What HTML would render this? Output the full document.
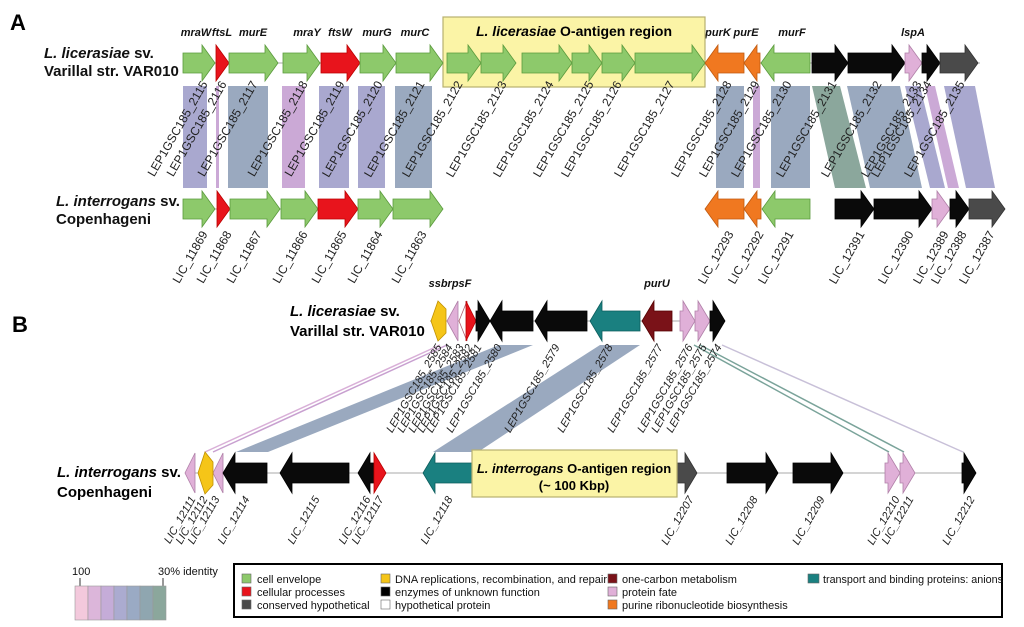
<!DOCTYPE html>
<html><head><meta charset="utf-8"><style>
html,body{margin:0;padding:0;background:#fff;}
svg{display:block;font-family:"Liberation Sans",sans-serif;}
.l{font-size:12px;fill:#222;}
.lb{font-size:11px;fill:#222;font-style:italic;}
.g{font-size:11px;font-weight:bold;font-style:italic;fill:#111;}
.sp{font-size:15px;font-weight:bold;fill:#111;}
.lg{font-size:11px;fill:#111;}
</style></head><body>
<svg id="s" width="1024" height="627" viewBox="0 0 1024 627" xmlns="http://www.w3.org/2000/svg">
<g id="bg"></g>
<text x="10" y="30" style="font-size:22px;font-weight:bold">A</text>
<text x="44" y="58" class="sp"><tspan font-style="italic">L. licerasiae</tspan> sv.</text>
<text x="44" y="76" class="sp">Varillal str. VAR010</text>
<text x="56" y="206" class="sp"><tspan font-style="italic">L. interrogans</tspan> sv.</text>
<text x="56" y="224" class="sp">Copenhageni</text>
<g class="g" text-anchor="middle">
<text x="196" y="36">mraW</text><text x="222" y="36">ftsL</text><text x="253" y="36">murE</text>
<text x="307" y="36">mraY</text><text x="340" y="36">ftsW</text><text x="377" y="36">murG</text><text x="415" y="36">murC</text>
<text x="718" y="36">purK</text><text x="746" y="36">purE</text><text x="792" y="36">murF</text><text x="913" y="36">lspA</text>
<text x="450" y="287">ssbrpsF</text><text x="657" y="287">purU</text>
</g>
<g id="fg"></g>
<text x="574" y="36" text-anchor="middle" style="font-size:14px;font-weight:bold"><tspan font-style="italic">L. licerasiae</tspan> O-antigen region</text>
<g class="l" text-anchor="end">
<text transform="translate(208,84) rotate(-60)">LEP1GSC185_2115</text>
<text transform="translate(227,84) rotate(-60)">LEP1GSC185_2116</text>
<text transform="translate(258,84) rotate(-60)">LEP1GSC185_2117</text>
<text transform="translate(308,84) rotate(-60)">LEP1GSC185_2118</text>
<text transform="translate(345,84) rotate(-60)">LEP1GSC185_2119</text>
<text transform="translate(383,84) rotate(-60)">LEP1GSC185_2120</text>
<text transform="translate(425,84) rotate(-60)">LEP1GSC185_2121</text>
<text transform="translate(463,84) rotate(-60)">LEP1GSC185_2122</text>
<text transform="translate(507,84) rotate(-60)">LEP1GSC185_2123</text>
<text transform="translate(554,84) rotate(-60)">LEP1GSC185_2124</text>
<text transform="translate(594,84) rotate(-60)">LEP1GSC185_2125</text>
<text transform="translate(622,84) rotate(-60)">LEP1GSC185_2126</text>
<text transform="translate(675,84) rotate(-60)">LEP1GSC185_2127</text>
<text transform="translate(732,84) rotate(-60)">LEP1GSC185_2128</text>
<text transform="translate(760,84) rotate(-60)">LEP1GSC185_2129</text>
<text transform="translate(792,84) rotate(-60)">LEP1GSC185_2130</text>
<text transform="translate(837,84) rotate(-60)">LEP1GSC185_2131</text>
<text transform="translate(882,84) rotate(-60)">LEP1GSC185_2132</text>
<text transform="translate(922,84) rotate(-60)">LEP1GSC185_2133</text>
<text transform="translate(932,84) rotate(-60)">LEP1GSC185_2134</text>
<text transform="translate(965,84) rotate(-60)">LEP1GSC185_2135</text>
<text transform="translate(208,234) rotate(-60)">LIC_11869</text>
<text transform="translate(232,234) rotate(-60)">LIC_11868</text>
<text transform="translate(262,234) rotate(-60)">LIC_11867</text>
<text transform="translate(308,234) rotate(-60)">LIC_11866</text>
<text transform="translate(347,234) rotate(-60)">LIC_11865</text>
<text transform="translate(383,234) rotate(-60)">LIC_11864</text>
<text transform="translate(427,234) rotate(-60)">LIC_11863</text>
<text transform="translate(734,234) rotate(-60)">LIC_12293</text>
<text transform="translate(764,234) rotate(-60)">LIC_12292</text>
<text transform="translate(794,234) rotate(-60)">LIC_12291</text>
<text transform="translate(865,234) rotate(-60)">LIC_12391</text>
<text transform="translate(914,234) rotate(-60)">LIC_12390</text>
<text transform="translate(949,234) rotate(-60)">LIC_12389</text>
<text transform="translate(967,234) rotate(-60)">LIC_12388</text>
<text transform="translate(995,234) rotate(-60)">LIC_12387</text>
</g>
<text x="12" y="332" style="font-size:22px;font-weight:bold">B</text>
<text x="290" y="316" style="font-size:15px;font-weight:bold"><tspan font-style="italic">L. licerasiae</tspan> sv.</text>
<text x="290" y="336" style="font-size:15px;font-weight:bold">Varillal str. VAR010</text>
<text x="57" y="477" style="font-size:15px;font-weight:bold"><tspan font-style="italic">L. interrogans</tspan> sv.</text>
<text x="57" y="497" style="font-size:15px;font-weight:bold">Copenhageni</text>
<text x="574" y="473" text-anchor="middle" style="font-size:13px;font-weight:bold"><tspan font-style="italic">L. interrogans</tspan> O-antigen region</text>
<text x="574" y="490" text-anchor="middle" style="font-size:13px;font-weight:bold">(~ 100 Kbp)</text>
<g class="lb" text-anchor="end">
<text transform="translate(442,347) rotate(-60)">LEP1GSC185_2585</text>
<text transform="translate(453,347) rotate(-60)">LEP1GSC185_2584</text>
<text transform="translate(464,347) rotate(-60)">LEP1GSC185_2583</text>
<text transform="translate(473,347) rotate(-60)">LEP1GSC185_2582</text>
<text transform="translate(482,347) rotate(-60)">LEP1GSC185_2581</text>
<text transform="translate(502,347) rotate(-60)">LEP1GSC185_2580</text>
<text transform="translate(560,347) rotate(-60)">LEP1GSC185_2579</text>
<text transform="translate(613,347) rotate(-60)">LEP1GSC185_2578</text>
<text transform="translate(663,347) rotate(-60)">LEP1GSC185_2577</text>
<text transform="translate(693,347) rotate(-60)">LEP1GSC185_2576</text>
<text transform="translate(707,347) rotate(-60)">LEP1GSC185_2575</text>
<text transform="translate(722,347) rotate(-60)">LEP1GSC185_2574</text>
<text transform="translate(196,499) rotate(-60)">LIC_12111</text>
<text transform="translate(208,499) rotate(-60)">LIC_12112</text>
<text transform="translate(220,499) rotate(-60)">LIC_12113</text>
<text transform="translate(250,499) rotate(-60)">LIC_12114</text>
<text transform="translate(320,499) rotate(-60)">LIC_12115</text>
<text transform="translate(371,499) rotate(-60)">LIC_12116</text>
<text transform="translate(384,499) rotate(-60)">LIC_12117</text>
<text transform="translate(453,499) rotate(-60)">LIC_12118</text>
<text transform="translate(694,499) rotate(-60)">LIC_12207</text>
<text transform="translate(758,499) rotate(-60)">LIC_12208</text>
<text transform="translate(825,499) rotate(-60)">LIC_12209</text>
<text transform="translate(900,499) rotate(-60)">LIC_12210</text>
<text transform="translate(914,499) rotate(-60)">LIC_12211</text>
<text transform="translate(975,499) rotate(-60)">LIC_12212</text>
</g>
<text x="72" y="575" class="lg">100</text>
<text x="158" y="575" class="lg">30% identity</text>
<line x1="80" y1="578" x2="80" y2="586" stroke="#333"/>
<line x1="163" y1="578" x2="163" y2="586" stroke="#333"/>
<g stroke="#999" stroke-width="0.6">
<rect x="75" y="586" width="13" height="34" fill="#f3c9dc"/>
<rect x="88" y="586" width="13" height="34" fill="#dcb6da"/>
<rect x="101" y="586" width="13" height="34" fill="#c5acd8"/>
<rect x="114" y="586" width="13" height="34" fill="#ababd0"/>
<rect x="127" y="586" width="13" height="34" fill="#9aaac4"/>
<rect x="140" y="586" width="13" height="34" fill="#8fa6b0"/>
<rect x="153" y="586" width="13" height="34" fill="#8ba79c"/>
</g>
<rect x="234" y="564" width="768" height="53" fill="#fff" stroke="#000" stroke-width="2"/>
<g stroke="#666" stroke-width="0.6">
<rect x="242" y="574" width="9" height="9" fill="#8dc96b"/>
<rect x="242" y="587" width="9" height="9" fill="#e8141c"/>
<rect x="242" y="600" width="9" height="9" fill="#4a4a4a"/>
<rect x="381" y="574" width="9" height="9" fill="#f5c518"/>
<rect x="381" y="587" width="9" height="9" fill="#000"/>
<rect x="381" y="600" width="9" height="9" fill="#fff"/>
<rect x="608" y="574" width="9" height="9" fill="#7a1218"/>
<rect x="608" y="587" width="9" height="9" fill="#e0b0d8"/>
<rect x="608" y="600" width="9" height="9" fill="#f07820"/>
<rect x="808" y="574" width="11" height="9" fill="#1a8080"/>
</g>
<g class="lg">
<text x="257" y="583">cell envelope</text>
<text x="257" y="596">cellular processes</text>
<text x="257" y="609">conserved hypothetical</text>
<text x="395" y="583" textLength="212" lengthAdjust="spacingAndGlyphs">DNA replications, recombination, and repair</text>
<text x="395" y="596">enzymes of unknown function</text>
<text x="395" y="609">hypothetical protein</text>
<text x="622" y="583">one-carbon metabolism</text>
<text x="622" y="596">protein fate</text>
<text x="622" y="609">purine ribonucleotide biosynthesis</text>
<text x="823" y="583" textLength="180" lengthAdjust="spacingAndGlyphs">transport and binding proteins: anions</text>
</g>
</svg>
<script>
var NS="http://www.w3.org/2000/svg";
var bg=document.getElementById('bg'), fg=document.getElementById('fg');
function el(p,t,a){var e=document.createElementNS(NS,t);for(var k in a)e.setAttribute(k,a[k]);p.appendChild(e);return e;}
var C={G:'#8dc96b',R:'#e8141c',O:'#f07820',P:'#e0b0d8',K:'#0a0a0a',D:'#4a4a4a',T:'#1a8080',M:'#7a1218',Y:'#f5c518',W:'#ffffff'};
var S={G:'#5a9a3c',R:'#b00',O:'#c05a10',P:'#b080a8',K:'#000',D:'#333',T:'#0d5e5e',M:'#500',Y:'#c09000',W:'#b06070'};
function arr(x1,x2,cy,dir,c,bh,hh,hl){
 var w=x2-x1; var h=Math.min(hl,w); var pts;
 if(dir>0){var b=x2-h;pts=[[x1,cy-bh],[b,cy-bh],[b,cy-hh],[x2,cy],[b,cy+hh],[b,cy+bh],[x1,cy+bh]];}
 else {var b=x1+h;pts=[[x2,cy-bh],[b,cy-bh],[b,cy-hh],[x1,cy],[b,cy+hh],[b,cy+bh],[x2,cy+bh]];}
 el(fg,'polygon',{points:pts.map(function(p){return p.join(',')}).join(' '),fill:C[c],stroke:S[c],'stroke-width':0.8});
}
function poly(p,col){el(bg,'polygon',{points:p,fill:col});}
var PU='#a9a8cf',BG='#9aa9bf',PP='#cba9d6',GG='#8ba79c';
[[183,207,PU],[216,219,PP],[228,268,BG],[282,305,PP],[319,349,PU],[358,385,PU],[395,432,BG],[716,744,BG],[753,760,PP],[771,810,BG]].forEach(function(b){poly(b[0]+',86 '+b[1]+',86 '+b[1]+',188 '+b[0]+',188',b[2]);});
poly('812,86 840,86 866,188 835,188',GG);
poly('847,86 900,86 922,188 870,188',BG);
poly('905,86 920,86 945,188 930,188',PU);
poly('925,86 935,86 959,188 948,188',PP);
poly('944,86 975,86 995,188 966,188',PU);
el(bg,'line',{x1:183,y1:63,x2:980,y2:63,stroke:'#aaa','stroke-width':1});
el(bg,'line',{x1:183,y1:209,x2:443,y2:209,stroke:'#aaa','stroke-width':1});
el(fg,'rect',{x:443,y:17,width:262,height:70,fill:'#fbf4a6',stroke:'#b8b070','stroke-width':1.2});
var a1=63,a2=209,bh=10,hh=18,hl=13;
[[183,215,1,'G'],[216,229,1,'R'],[229,278,1,'G'],[283,320,1,'G'],[321,360,1,'R'],[360,396,1,'G'],[396,443,1,'G'],
 [447,481,1,'G'],[481,516,1,'G'],[522,572,1,'G'],[572,602,1,'G'],[602,635,1,'G'],[635,705,1,'G'],
 [705,744,-1,'O'],[744,760,-1,'O'],[761,810,-1,'G'],[812,848,1,'K'],[848,905,1,'K'],[905,922,1,'P'],[922,940,1,'K'],[940,978,1,'D']
].forEach(function(g){arr(g[0],g[1],a1,g[2],g[3],bh,hh,hl);});
[[183,215,1,'G'],[217,230,1,'R'],[230,280,1,'G'],[281,318,1,'G'],[318,358,1,'R'],[358,393,1,'G'],[393,443,1,'G'],
 [705,744,-1,'O'],[744,761,-1,'O'],[762,810,-1,'G'],[835,874,1,'K'],[874,932,1,'K'],[932,950,1,'P'],[950,969,1,'K'],[969,1005,1,'D']
].forEach(function(g){arr(g[0],g[1],a2,g[2],g[3],bh,hh,hl);});
poly('499,345 533,345 268,452 236,452',BG);
poly('600,345 640,345 478,452 433,452',BG);
function ln(x1,y1,x2,y2,c,w){el(bg,'line',{x1:x1,y1:y1,x2:x2,y2:y2,stroke:c,'stroke-width':w||1.5});}
ln(440,345,205,452,'#d9b0d8');ln(447,345,213,452,'#c8a0d0');
ln(694,345,889,452,'#7aa39a');ln(700,345,904,452,'#7aa39a');ln(722,345,963,452,'#c8c0d8');
ln(430,321,725,321,'#aaa',1);ln(185,473,975,473,'#aaa',1);
var b1=321,b2=473,bb=10,bhh=20,bhl=12;
el(fg,'polygon',{points:'431,321 438,301 446,309 446,333 438,341',fill:C.Y,stroke:S.Y,'stroke-width':0.8});
[[447,458,-1,'P'],[459,467,-1,'W'],[466,476,1,'R'],[476,490,1,'K'],[490,533,-1,'K'],[535,587,-1,'K'],[590,640,-1,'T'],[642,672,-1,'M'],[680,695,1,'P'],[695,710,1,'P'],[710,725,1,'K']
].forEach(function(g){arr(g[0],g[1],b1,g[2],g[3],bb,bhh,bhl);});
[[185,195,-1,'P'],[213,223,-1,'P'],[223,267,-1,'K'],[280,349,-1,'K'],[358,374,-1,'K'],[374,386,1,'R'],[423,480,-1,'T'],[677,697,1,'D'],[727,778,1,'K'],[793,843,1,'K'],[885,900,1,'P'],[900,915,1,'P'],[962,976,1,'K']
].forEach(function(g){arr(g[0],g[1],b2,g[2],g[3],bb,bhh,bhl);});
el(fg,'polygon',{points:'198,473 205,452 213,462 213,485 205,494',fill:C.Y,stroke:S.Y,'stroke-width':0.8});
el(fg,'rect',{x:472,y:450,width:205,height:47,fill:'#fbf4a6',stroke:'#b8b070','stroke-width':1.2});
</script>
</body></html>
